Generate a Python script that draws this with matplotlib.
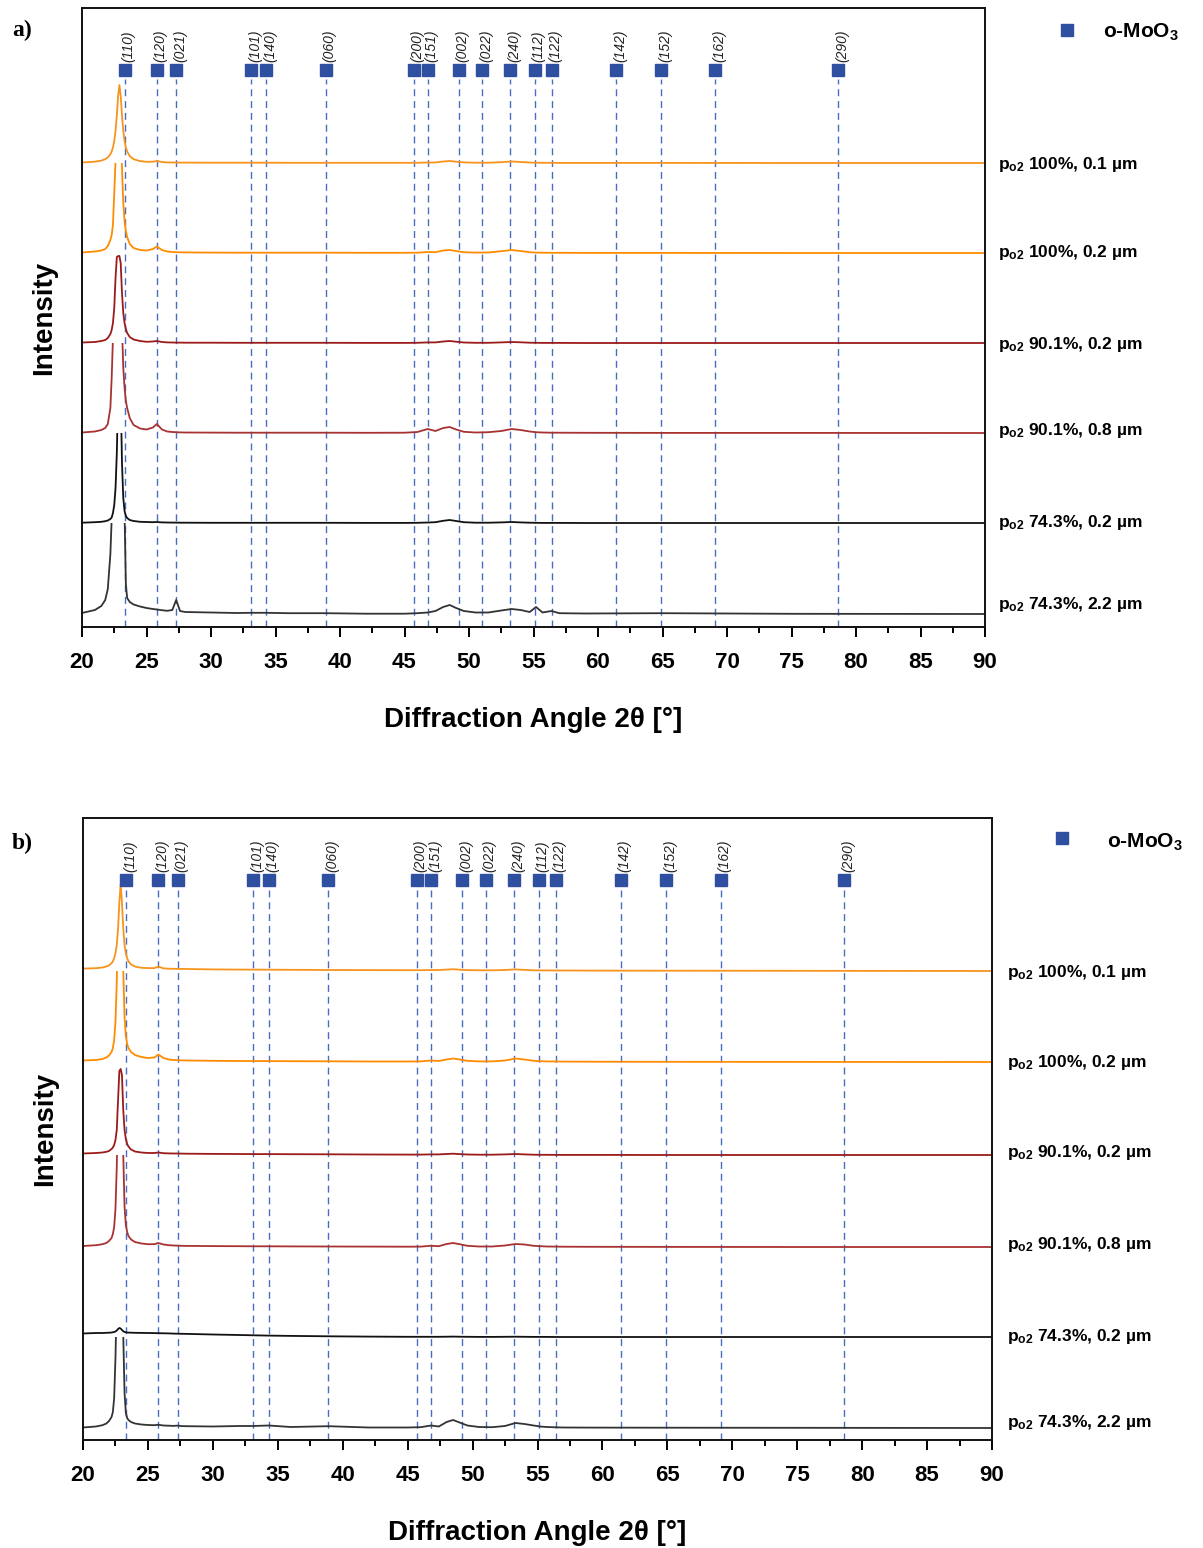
import matplotlib
matplotlib.use("Agg")
import matplotlib.pyplot as plt
from matplotlib.patches import Rectangle
from matplotlib.lines import Line2D
from matplotlib import transforms
from matplotlib.ticker import MultipleLocator

plt.rcParams['font.family'] = ['Liberation Sans', 'DejaVu Sans']
plt.rcParams['mathtext.fontset'] = 'custom'
plt.rcParams['mathtext.rm'] = 'Liberation Sans'
plt.rcParams['mathtext.bf'] = 'Liberation Sans:bold'
plt.rcParams['mathtext.it'] = 'Liberation Sans:italic'

# ---------------- data ----------------
two_theta = [20.0, 21.0, 21.5, 21.8, 22.0, 22.2, 22.3, 22.4, 22.5, 22.6,
             22.7, 22.8, 22.9, 23.0, 23.1, 23.2, 23.3, 23.4, 23.5, 23.7,
             24.0, 24.5, 25.0, 25.5, 25.8, 26.2, 26.6, 27.0, 27.3, 27.6,
             28.0, 30.0, 32.0, 33.1, 34.3, 36.0, 38.9, 42.0, 45.0, 46.0,
             46.8, 47.4, 48.0, 48.5, 49.0, 49.6, 50.5, 51.5, 52.5, 53.3,
             54.0, 54.7, 55.2, 55.7, 56.4, 57.0, 59.0, 65.0, 75.0, 90.0]

# panel a) intensities (a.u., above each trace's baseline)
a_100_01 = [0.5, 1.3, 2.4, 3.8, 5.6, 8.8, 11.5, 15.6, 21.9, 32,
            47.6, 67, 78, 67, 47.6, 32, 21.9, 15.6, 11.5, 6.9,
            3.8, 1.9, 1.2, 1.3, 2.0, 1.0, 0.6, 0.5, 0.5, 0.4,
            0.4, 0.3, 0.3, 0.3, 0.3, 0.2, 0.2, 0.2, 0.2, 0.2,
            0.5, 0.5, 1.5, 2.0, 1.3, 0.6, 0.3, 0.3, 0.8, 1.5,
            1.0, 0.5, 0.3, 0.2, 0.2, 0.1, 0.1, 0.1, 0.0, 0.0]
a_100_02 = [0.5, 1.5, 2.5, 4.0, 7.0, 13, 18, 28, 60, 92,
            150, 200, 200, 150, 85, 50, 32, 22, 16, 9,
            5.0, 3.0, 2.5, 4.0, 6.5, 3.0, 1.5, 1.0, 0.8, 0.7,
            0.6, 0.4, 0.3, 0.3, 0.3, 0.3, 0.3, 0.2, 0.2, 0.3,
            1.0, 0.8, 2.5, 3.0, 2.0, 0.8, 0.4, 0.5, 1.8, 3.0,
            2.0, 0.8, 0.4, 0.3, 0.2, 0.2, 0.1, 0.1, 0.0, 0.0]
a_901_02 = [0.5, 1.0, 2.0, 3.0, 5.0, 9.0, 13, 20, 35, 65,
            86, 87, 87, 80, 50, 30, 20, 14, 10, 6.0,
            3.5, 2.0, 1.2, 1.5, 2.0, 1.0, 0.6, 0.5, 0.4, 0.4,
            0.3, 0.3, 0.2, 0.2, 0.2, 0.2, 0.2, 0.1, 0.1, 0.2,
            0.6, 0.6, 1.5, 2.0, 1.3, 0.5, 0.2, 0.2, 0.6, 1.0,
            0.7, 0.3, 0.2, 0.1, 0.1, 0.1, 0.0, 0.0, 0.0, 0.0]
a_901_08 = [0.5, 1.5, 3.0, 5.0, 9.0, 25, 55, 95, 140, 180,
            200, 200, 190, 150, 105, 65, 45, 32, 25, 15,
            8.0, 4.5, 3.5, 5.5, 9.0, 3.5, 1.5, 1.0, 0.8, 0.6,
            0.5, 0.4, 0.3, 0.3, 0.3, 0.3, 0.3, 0.2, 0.3, 1.0,
            4.0, 2.0, 5.0, 6.0, 3.5, 1.2, 0.5, 0.8, 2.0, 4.0,
            3.0, 1.5, 0.8, 0.5, 0.3, 0.3, 0.2, 0.1, 0.1, 0.0]
a_743_02 = [0.3, 0.8, 1.2, 1.8, 2.5, 4.0, 5.5, 10, 18, 35,
            70, 130, 180, 130, 60, 25, 12, 7, 5, 3,
            2.0, 1.2, 1.0, 0.8, 1.0, 0.6, 0.5, 0.4, 0.4, 0.3,
            0.3, 0.2, 0.2, 0.2, 0.2, 0.2, 0.2, 0.1, 0.1, 0.2,
            0.5, 0.8, 2.2, 3.0, 2.0, 0.8, 0.3, 0.3, 0.6, 1.0,
            0.6, 0.3, 0.2, 0.1, 0.1, 0.1, 0.0, 0.0, 0.0, 0.0]
a_743_22 = [1.0, 4.0, 8.0, 14, 25, 60, 95, 150, 250, 300,
            320, 320, 300, 280, 250, 200, 100, 30, 16, 12,
            9.5, 7.5, 6.0, 5.0, 4.5, 3.8, 3.2, 4.0, 14, 3.0,
            2.0, 1.5, 1.0, 1.2, 1.2, 0.8, 0.8, 0.3, 0.3, 0.8,
            1.5, 3.0, 7.0, 9.0, 6.0, 3.0, 1.5, 1.5, 3.5, 5.0,
            4.0, 2.0, 7.0, 1.5, 3.0, 0.8, 0.5, 0.8, 0.2, 0.0]

# panel b) intensities
b_100_01 = [2.4, 2.8, 3.5, 4.5, 5.6, 7.8, 9.7, 12.8, 17.7, 26,
            42.5, 68.6, 87, 68.6, 42.5, 26, 17.7, 12.8, 9.7, 6.5,
            4.5, 3.2, 2.9, 2.9, 4.5, 2.6, 2.3, 2.2, 2.1, 2.1,
            2.0, 1.6, 1.4, 1.4, 1.3, 1.2, 1.0, 0.9, 0.8, 0.8,
            1.0, 1.0, 1.4, 1.8, 1.3, 0.9, 0.7, 0.7, 1.0, 1.6,
            1.1, 0.7, 0.6, 0.6, 0.5, 0.5, 0.4, 0.3, 0.2, 0.0]
b_100_02 = [1.5, 2.0, 3.0, 4.5, 6.5, 10, 14, 22, 40, 80,
            140, 200, 210, 160, 92, 45, 26, 18, 14, 10,
            7.0, 5.0, 4.0, 4.5, 7.5, 4.0, 2.5, 2.0, 1.8, 1.6,
            1.5, 1.2, 1.0, 1.0, 0.9, 0.8, 0.7, 0.5, 0.5, 0.6,
            1.5, 1.0, 2.5, 3.5, 2.5, 1.2, 0.6, 0.6, 1.5, 3.5,
            2.5, 1.2, 0.8, 0.6, 0.5, 0.4, 0.3, 0.2, 0.1, 0.0]
b_901_02 = [1.5, 2.0, 2.5, 3.2, 4.0, 6.0, 7.5, 10, 15, 25,
            55, 84, 86, 80, 45, 25, 16, 11, 8.5, 5.5,
            3.5, 2.5, 2.0, 2.0, 2.5, 1.8, 1.6, 1.5, 1.5, 1.4,
            1.3, 1.1, 1.0, 0.9, 0.9, 0.8, 0.7, 0.5, 0.4, 0.4,
            0.6, 0.6, 1.0, 1.3, 0.9, 0.5, 0.3, 0.3, 0.6, 1.0,
            0.6, 0.3, 0.2, 0.2, 0.1, 0.1, 0.1, 0.0, 0.0, 0.0]
b_901_08 = [1.0, 1.8, 2.8, 4.0, 6.0, 9.0, 13, 20, 38, 80,
            140, 200, 210, 160, 92, 40, 22, 15, 11, 7.5,
            5.0, 3.5, 2.8, 2.8, 4.0, 2.5, 1.8, 1.5, 1.3, 1.2,
            1.1, 0.9, 0.8, 0.7, 0.7, 0.6, 0.5, 0.4, 0.3, 0.4,
            1.2, 0.8, 3.0, 4.0, 2.8, 1.2, 0.5, 0.5, 1.5, 3.0,
            2.5, 1.2, 0.8, 0.5, 0.4, 0.3, 0.2, 0.1, 0.0, 0.0]
b_743_02 = [3.5, 4.0, 4.0, 4.2, 4.3, 4.5, 4.7, 5.0, 5.5, 6.5,
            8.0, 9.0, 8.5, 7.0, 5.8, 5.0, 4.7, 4.5, 4.4, 4.3,
            4.2, 4.1, 4.0, 3.9, 3.8, 3.7, 3.6, 3.4, 3.3, 3.2,
            3.1, 2.5, 2.0, 1.7, 1.4, 1.1, 0.7, 0.4, 0.2, 0.2,
            0.2, 0.2, 0.3, 0.4, 0.3, 0.2, 0.1, 0.1, 0.2, 0.3,
            0.2, 0.1, 0.1, 0.1, 0.0, 0.0, 0.0, 0.0, 0.0, 0.0]
b_743_22 = [0.5, 1.5, 2.8, 4.5, 7.0, 11, 16, 30, 70, 130,
            200, 250, 250, 180, 92, 35, 15, 10, 8, 6,
            4.5, 3.5, 3.0, 2.8, 3.2, 2.5, 2.3, 2.1, 2.4, 1.9,
            1.8, 1.5, 2.0, 2.0, 2.5, 1.0, 1.8, 0.5, 0.5, 0.8,
            2.5, 1.5, 6.0, 8.0, 5.5, 2.5, 1.0, 0.8, 2.0, 5.0,
            4.0, 2.5, 1.5, 1.0, 0.7, 0.5, 0.4, 0.3, 0.2, 0.0]

sample_labels = [r"p$_{\mathbf{o2}}$ 100%, 0.1 µm",
                 r"p$_{\mathbf{o2}}$ 100%, 0.2 µm",
                 r"p$_{\mathbf{o2}}$ 90.1%, 0.2 µm",
                 r"p$_{\mathbf{o2}}$ 90.1%, 0.8 µm",
                 r"p$_{\mathbf{o2}}$ 74.3%, 0.2 µm",
                 r"p$_{\mathbf{o2}}$ 74.3%, 2.2 µm"]

# o-MoO3 reference reflections
refl_pos = [23.3, 25.8, 27.3, 33.1, 34.3, 38.9, 45.7, 46.8, 49.2, 51.0,
            53.2, 55.1, 56.4, 61.4, 64.9, 69.1, 78.6]
refl_hkl = ["(110)", "(120)", "(021)", "(101)", "(140)", "(060)", "(200)",
            "(151)", "(002)", "(022)", "(240)", "(112)", "(122)", "(142)",
            "(152)", "(162)", "(290)"]

x_ticks = [20, 25, 30, 35, 40, 45, 50, 55, 60, 65, 70, 75, 80, 85, 90]

# ---------------- style / layout ----------------
trace_colors = ['#F7941D', '#FF8C00', '#9B1B1B', '#A83232', '#111111', '#333333']
marker_color = '#2F4FA0'
dash_color = '#4A6CC0'

W, H = 1203, 1548
fig = plt.figure(figsize=(W / 100, H / 100), dpi=100)

panels = [
    dict(name='a)', rect=(82, 8, 985, 627),
         data=[a_100_01, a_100_02, a_901_02, a_901_08, a_743_02, a_743_22],
         base=[464, 374, 284, 194, 104, 13],
         label_y=[462, 374, 283, 196, 104, 23],
         label_x=998, leg_sq=(1067, 30), leg_tx=(1103, 32), tag=(12, 30)),
    dict(name='b)', rect=(83, 818, 992, 1440),
         data=[b_100_01, b_100_02, b_901_02, b_901_08, b_743_02, b_743_22],
         base=[469, 378, 285, 193, 103, 12],
         label_y=[468, 377, 287, 196, 104, 17],
         label_x=1007, leg_sq=(1062, 838), leg_tx=(1107, 842), tag=(12, 843)),
]

for p in panels:
    x0, y0, x1, y1 = p['rect']
    ax = fig.add_axes([x0 / W, 1 - y1 / H, (x1 - x0) / W, (y1 - y0) / H])
    hpx = y1 - y0
    ax.set_xlim(20, 90)
    ax.set_ylim(0, hpx)

    xt = ax.get_xaxis_transform()
    # reference lines and markers
    ax.vlines(refl_pos, 0, 0.885, transform=xt, colors=dash_color,
              linestyles=(0, (5, 3.5)), linewidth=1.0, zorder=1)
    ax.plot(refl_pos, [0.9] * len(refl_pos), 's', transform=xt,
            color=marker_color, markersize=9, zorder=3, clip_on=False)
    lab_tr = transforms.offset_copy(xt, fig=fig, x=4, y=0, units='dots')
    for pos, hkl in zip(refl_pos, refl_hkl):
        ax.text(pos, 0.913, hkl, transform=lab_tr, rotation=90,
                ha='center', va='bottom', fontsize=10, style='italic',
                color='#222222')

    # traces
    for i, (ys, off, col) in enumerate(zip(p['data'], p['base'], trace_colors)):
        line, = ax.plot(two_theta, [off + v for v in ys], color=col,
                        linewidth=1.3, zorder=2)
        if i > 0:
            top = p['base'][i - 1]
            rect = Rectangle((10, -100), 100, top + 100, transform=ax.transData)
            line.set_clip_path(rect)

    # sample labels
    for lab, ly in zip(sample_labels, p['label_y']):
        ax.text(p['label_x'] / W, 1 - (y1 - ly) / H, lab,
                transform=fig.transFigure, ha='left', va='center',
                fontsize=12.5, fontweight='bold')

    # legend for reference pattern
    fig.add_artist(Line2D([p['leg_sq'][0] / W], [1 - p['leg_sq'][1] / H],
                          marker='s', color=marker_color, markersize=9,
                          linestyle='none', transform=fig.transFigure))
    fig.text(p['leg_tx'][0] / W, 1 - p['leg_tx'][1] / H,
             r"o-MoO$_{\mathbf{3}}$", ha='left', va='center', fontsize=15,
             fontweight='bold')

    # panel tag
    fig.text(p['tag'][0] / W, 1 - p['tag'][1] / H, p['name'], ha='left',
             va='center', fontsize=17, fontweight='bold',
             family='Liberation Serif')

    # axes styling
    for s in ax.spines.values():
        s.set_linewidth(1.4)
        s.set_color('#111111')
    ax.set_yticks([])
    ax.set_xticks(x_ticks)
    ax.xaxis.set_minor_locator(MultipleLocator(2.5))
    ax.tick_params(axis='x', which='major', direction='out', length=7,
                   width=1.4, labelsize=16, pad=11)
    ax.tick_params(axis='x', which='minor', direction='out', length=4,
                   width=1.4)
    for tl in ax.get_xticklabels():
        tl.set_fontweight('bold')
    ax.set_xlabel("Diffraction Angle 2θ [°]", fontsize=20, fontweight='bold')
    ax.xaxis.set_label_coords(0.5, -0.129)
    ax.set_ylabel("Intensity", fontsize=20, fontweight='bold')
    ax.yaxis.set_label_coords(-0.027, 0.5)

fig.savefig("out.png", dpi=100)
